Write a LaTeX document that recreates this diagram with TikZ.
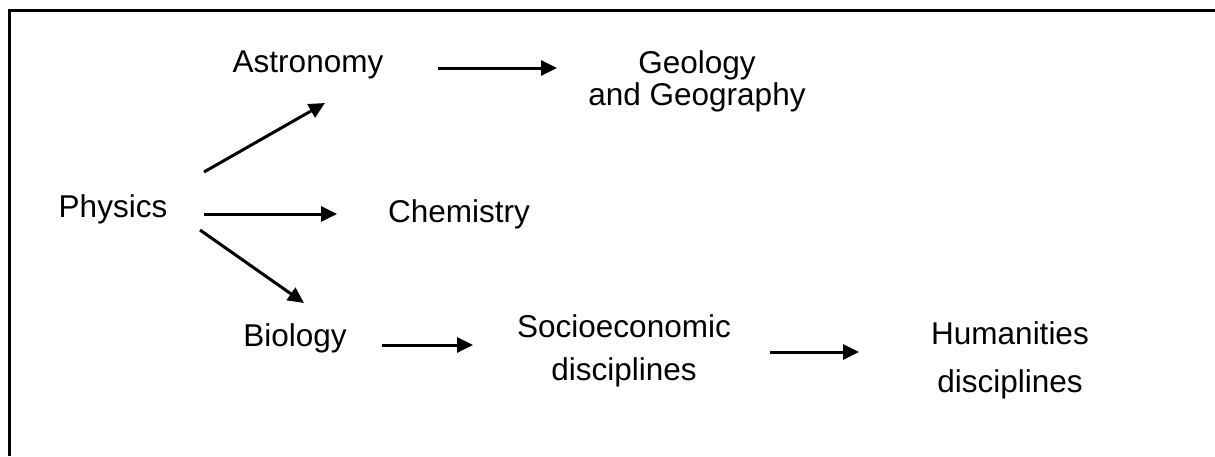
\documentclass[tikz,border=0pt]{standalone}
\usepackage{fontspec}
\setmainfont{Liberation Sans}
\usepackage{tikz}
\usetikzlibrary{arrows.meta,calc}

\begin{document}
\begin{tikzpicture}[x=1pt,y=-1pt,font=\fontsize{31.5}{32}\selectfont,
  lbl/.style={anchor=base,align=center,inner sep=0pt},
  arr/.style={line width=3pt,-{Triangle[length=16pt,width=15pt]}}]
\useasboundingbox (0,0) rectangle (1215,456);
\draw[line width=3pt] (9,456)--(9,10)--(1215,10);
\node[lbl] (phys) at (113,217) {Physics};
\node[lbl] (astro) at (308,72) {Astronomy};
\node[lbl] (chem) at (459,222) {Chemistry};
\node[lbl] (bio) at (295,346) {Biology};
\node[lbl] (geo) at (697,105) {Geology\\and Geography};
\node[lbl,font=\fontsize{31.5}{43}\selectfont] (soc) at (624,380) {Socioeconomic\\disciplines};
\node[lbl,font=\fontsize{31.5}{48}\selectfont] (hum) at (1010,392) {Humanities\\disciplines};
\draw[arr] ($(phys.base)+(91,-45)$)--($(astro.base)+(17,31)$);
\draw[arr] ($(phys.base)+(91,-3)$)--($(chem.base)+(-122,-8)$);
\draw[arr] ($(phys.base)+(87,13)$)--($(bio.base)+(9,-43)$);
\draw[arr] ($(astro.base)+(130,-4)$)--($(geo.base)+(-140,-37)$);
\draw[arr] ($(bio.base)+(87,-1)$)--($(soc.base)+(-151,-35)$);
\draw[arr] ($(soc.base)+(146,-28)$)--($(hum.base)+(-151,-40)$);
\end{tikzpicture}
\end{document}
